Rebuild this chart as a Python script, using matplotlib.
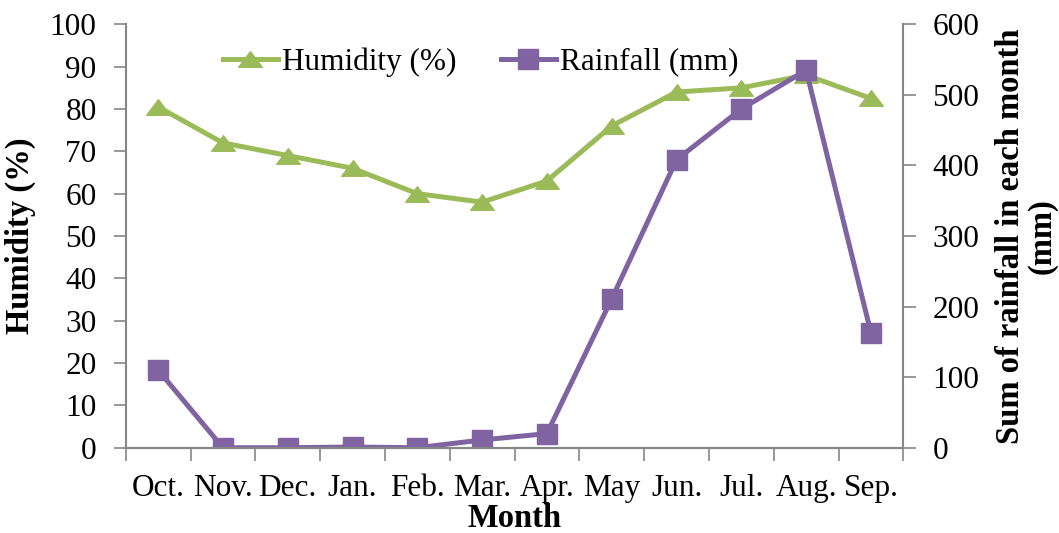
import numpy as np
import matplotlib.pyplot as plt
from matplotlib.path import Path

months = ["Oct.", "Nov.", "Dec.", "Jan.", "Feb.", "Mar.", "Apr.", "May", "Jun.", "Jul.", "Aug.", "Sep."]
humidity = [80.5, 72, 69, 66, 60, 58, 63, 76, 84, 85, 88, 82.5]
rainfall = [110, 0, 0, 1, 0, 11, 20, 211, 408, 480, 535, 163]

GREEN = "#9BBB59"
PURPLE = "#8064A2"
GRAY = "#868686"

plt.rcParams["font.family"] = ["Liberation Serif", "DejaVu Serif"]
plt.rcParams["font.size"] = 22.5

# wide, flat triangle marker
tri = Path([(-1, -0.66), (1, -0.66), (0, 0.66), (-1, -0.66)],
           [Path.MOVETO, Path.LINETO, Path.LINETO, Path.CLOSEPOLY])

fig = plt.figure(figsize=(10.59, 5.33), dpi=100)
ax = fig.add_axes([0.1187, 0.16, 0.853 - 0.1187, 0.9544 - 0.16])
ax2 = ax.twinx()

x = np.arange(len(months))
h1, = ax.plot(x, humidity, color=GREEN, lw=3.6, marker=tri, ms=17,
              mec=GREEN, mfc=GREEN, label="Humidity (%)")
h2, = ax2.plot(x, rainfall, color=PURPLE, lw=3.6, marker="s", ms=15,
               mec=PURPLE, mfc=PURPLE, label="Rainfall (mm)")

ax.set_xlim(-0.5, len(months) - 0.5)
ax.set_ylim(0, 100)
ax.set_yticks(range(0, 101, 10))
ax2.set_ylim(0, 600)
ax2.set_yticks(range(0, 601, 100))

ax.set_xticks(x)
ax.set_xticklabels(months)
ax.set_xticks(np.arange(-0.5, len(months), 1), minor=True)
ax.tick_params(axis="x", which="major", length=0, pad=19)
ax.tick_params(axis="x", which="minor", length=9, width=1.2, color=GRAY, direction="out")
ax.tick_params(axis="y", length=9, width=1.2, color=GRAY, direction="out", pad=12)
ax2.tick_params(axis="y", length=9, width=1.2, color=GRAY, direction="out", pad=12)

for a in (ax, ax2):
    a.spines["top"].set_visible(False)
    for side in ("left", "right", "bottom"):
        a.spines[side].set_color(GRAY)
        a.spines[side].set_linewidth(1.5)
ax.spines["right"].set_visible(False)
ax2.spines["left"].set_visible(False)

ax.set_xlabel("Month", fontweight="bold", fontsize=23.5, labelpad=0)
ax.set_ylabel("Humidity (%)", fontweight="bold", fontsize=23.5, labelpad=10)
ax2.set_ylabel("Sum of rainfall in each month\n(mm)", fontweight="bold", fontsize=23.5,
               rotation=90, labelpad=11, linespacing=1.05)

fig.legend(handles=[h1, h2], loc="center", bbox_to_anchor=(0.454, 0.884),
           ncol=2, frameon=False, handlelength=1.76, handletextpad=0.15,
           columnspacing=1.4, fontsize=22.5)

fig.savefig("out.png", dpi=100)
